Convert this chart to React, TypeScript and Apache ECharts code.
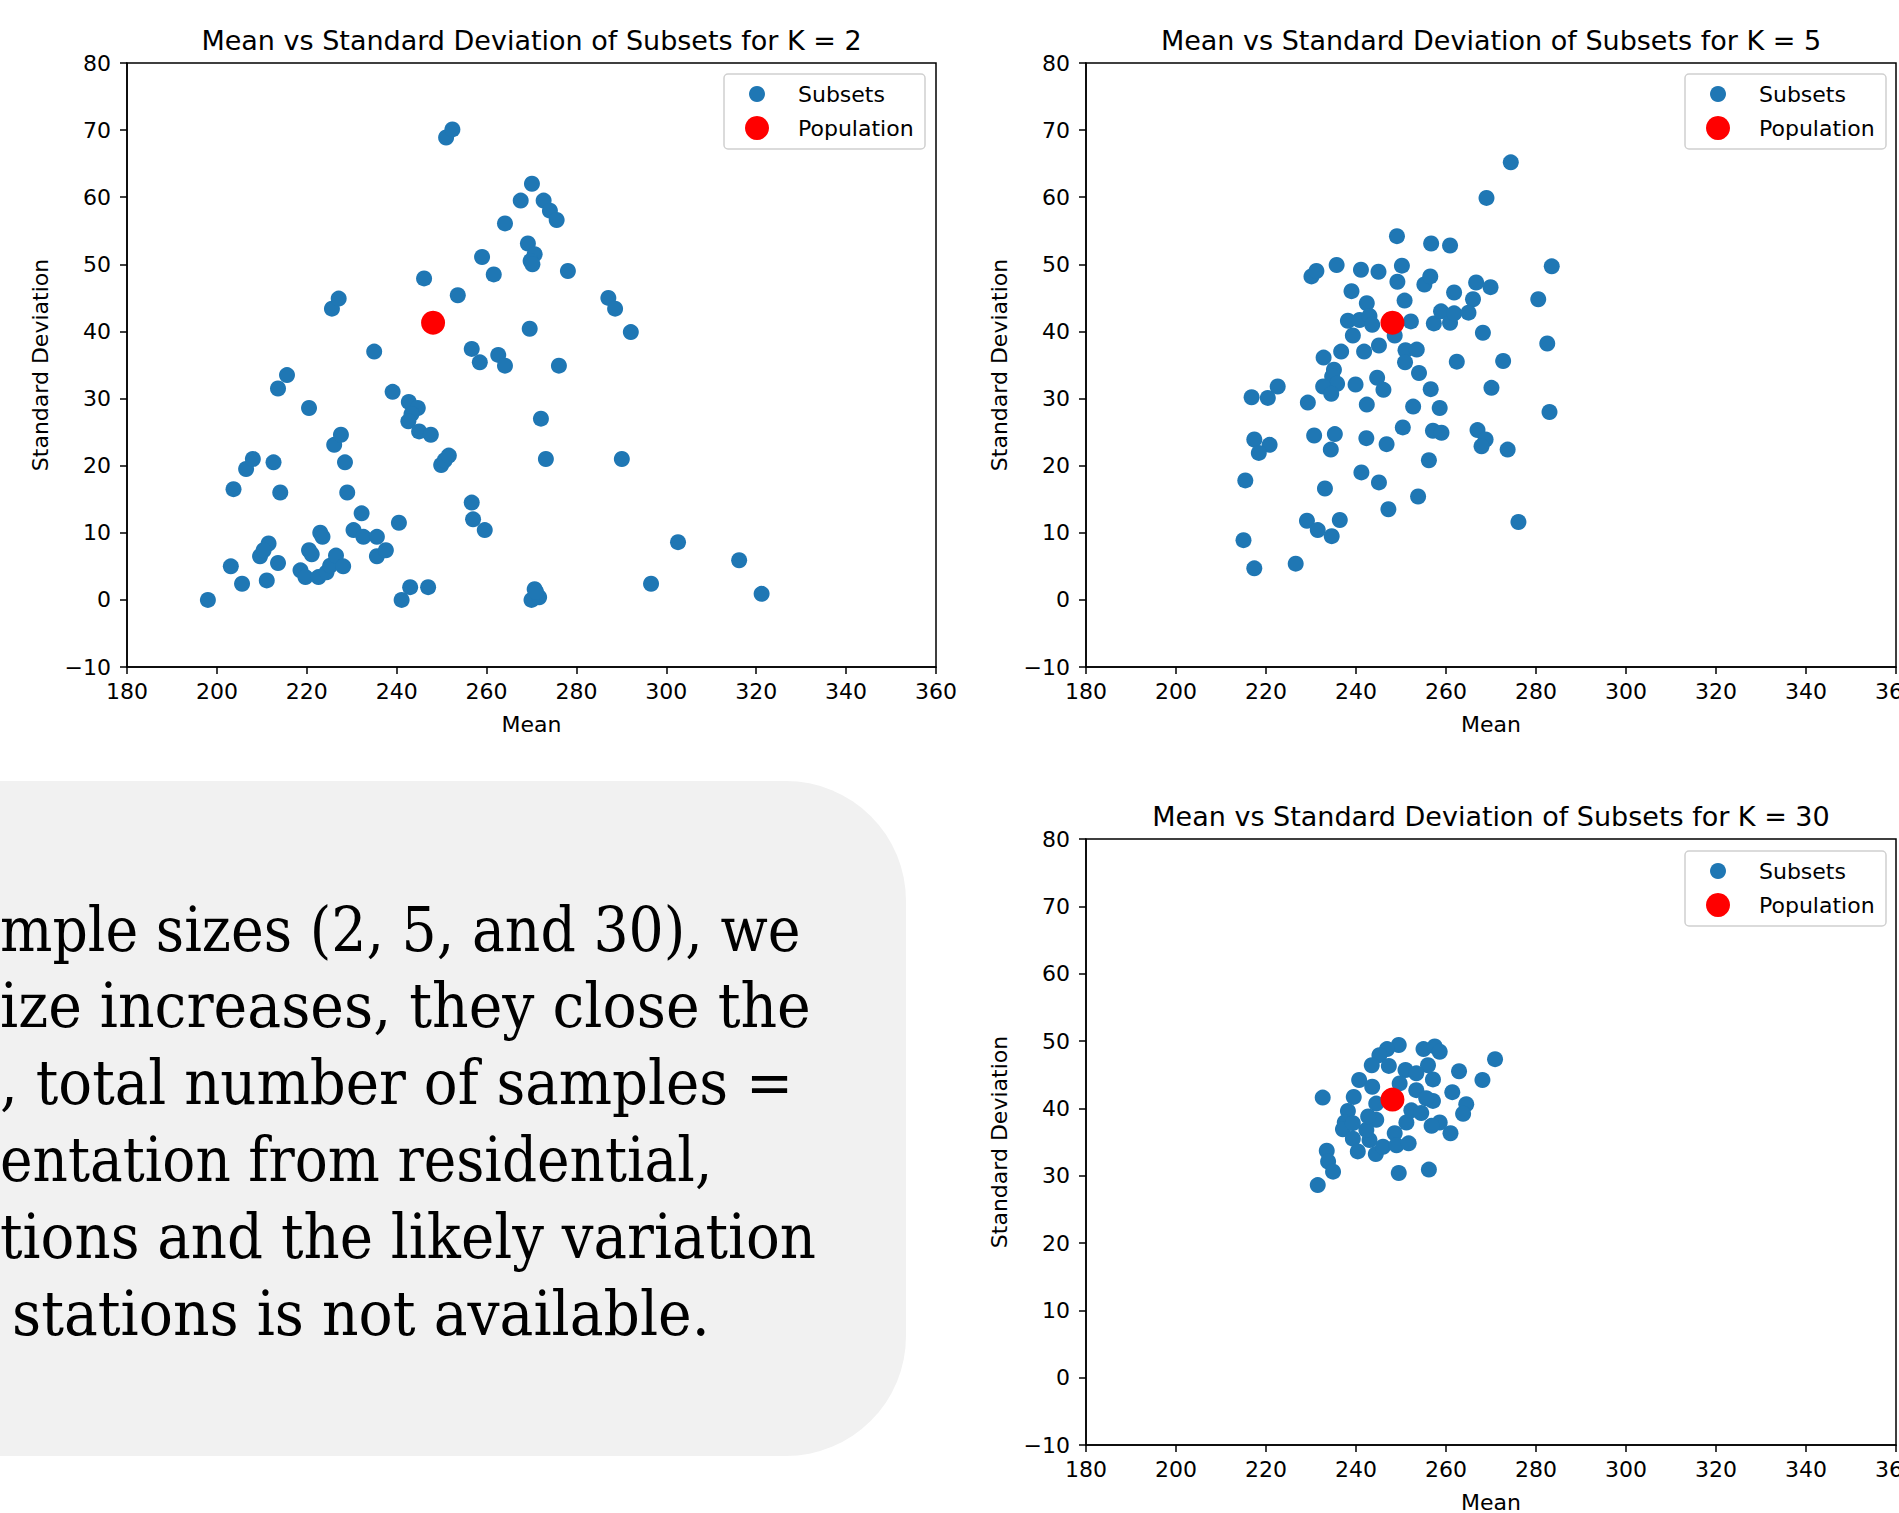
import { useEffect, useRef } from "react";
import * as echarts from "echarts";

// ---------- data ----------
const xTicks = [180, 200, 220, 240, 260, 280, 300, 320, 340, 360];
const yTicks = [-10, 0, 10, 20, 30, 40, 50, 60, 70, 80];

const population: [number, number] = [248.1, 41.3];

const subsetsK2: [number, number][] = [
  [198.0, 0.0], [203.1, 5.0], [205.6, 2.4], [211.1, 2.9], [209.6, 6.5], [211.5, 8.4],
  [210.4, 7.4], [213.6, 5.5], [203.7, 16.5], [206.5, 19.5], [208.0, 21.0], [212.6, 20.5],
  [214.1, 16.0], [213.6, 31.5], [215.6, 33.5], [220.5, 28.6], [218.6, 4.4], [219.7, 3.4],
  [220.5, 7.4], [221.1, 6.8], [223.0, 10.0], [223.5, 9.4], [222.6, 3.4], [224.4, 4.1],
  [225.2, 5.1], [226.5, 6.6], [228.1, 5.0], [225.6, 43.4], [227.1, 44.9], [226.1, 23.1],
  [227.6, 24.6], [228.5, 20.5], [229.0, 16.0], [230.4, 10.4], [232.2, 12.9], [232.6, 9.4],
  [235.6, 9.4], [235.6, 6.5], [237.6, 7.4], [235.0, 37.0], [239.1, 31.0], [240.5, 11.5],
  [241.1, 0.0], [243.0, 1.9], [247.0, 1.9], [242.7, 29.5], [244.7, 28.6], [243.3, 27.7],
  [242.6, 26.6], [245.0, 25.1], [247.6, 24.6], [246.1, 47.9], [253.6, 45.4], [249.9, 20.1],
  [250.7, 20.8], [251.6, 21.5], [251.0, 68.9], [252.4, 70.1], [256.7, 37.4], [258.5, 35.4],
  [262.6, 36.5], [264.1, 34.9], [256.7, 14.5], [257.0, 12.0], [259.6, 10.4], [259.0, 51.1],
  [261.6, 48.5], [264.1, 56.1], [267.6, 59.5], [270.1, 62.0], [272.7, 59.5], [274.1, 58.0],
  [275.6, 56.6], [269.2, 53.1], [270.7, 51.5], [269.8, 50.5], [270.2, 50.0], [278.1, 49.0],
  [269.6, 40.4], [276.1, 34.9], [272.1, 27.0], [273.2, 21.0], [270.7, 1.6], [270.0, 0.0],
  [271.7, 0.4], [271.0, 1.2], [287.1, 45.0], [288.6, 43.4], [292.1, 39.9], [290.1, 21.0],
  [302.6, 8.6], [316.2, 5.9], [296.6, 2.4], [321.2, 0.9],
];

const subsetsK5: [number, number][] = [
  [274.4, 65.2], [269.0, 59.9], [249.1, 54.2], [256.7, 53.1], [260.9, 52.8], [235.7, 49.9],
  [241.1, 49.2], [245.0, 48.9], [250.2, 49.8], [283.5, 49.7], [230.1, 48.2], [231.2, 49.0],
  [249.2, 47.4], [255.2, 47.0], [256.5, 48.2], [239.0, 46.0], [261.8, 45.8], [266.7, 47.3],
  [269.9, 46.6], [280.5, 44.8], [266.0, 44.8], [242.4, 44.2], [250.8, 44.6], [238.2, 41.6],
  [240.8, 41.7], [243.0, 42.3], [243.6, 41.0], [252.2, 41.5], [257.3, 41.2], [258.9, 43.0],
  [260.9, 41.3], [261.8, 42.7], [265.0, 42.8], [239.3, 39.4], [248.6, 39.4], [245.1, 37.9],
  [241.8, 37.0], [236.7, 37.0], [232.8, 36.1], [268.2, 39.8], [282.5, 38.2], [251.0, 37.2],
  [253.5, 37.3], [250.9, 35.4], [262.4, 35.5], [272.7, 35.6], [235.1, 34.3], [234.7, 33.3],
  [254.0, 33.8], [235.8, 32.2], [232.7, 31.8], [234.5, 30.7], [239.9, 32.1], [244.7, 33.1],
  [246.1, 31.3], [256.6, 31.4], [270.1, 31.6], [222.6, 31.8], [220.4, 30.1], [216.8, 30.2],
  [229.3, 29.4], [242.4, 29.1], [252.7, 28.8], [258.6, 28.6], [283.0, 28.0], [250.4, 25.7],
  [257.1, 25.2], [259.0, 24.9], [267.0, 25.3], [268.8, 23.9], [267.9, 22.9], [273.7, 22.4],
  [230.7, 24.5], [235.3, 24.7], [242.3, 24.1], [246.8, 23.2], [234.4, 22.4], [217.4, 23.9],
  [220.8, 23.1], [218.4, 21.9], [256.2, 20.8], [215.4, 17.8], [241.2, 19.0], [245.1, 17.5],
  [233.1, 16.6], [253.8, 15.4], [247.2, 13.5], [276.1, 11.6], [229.1, 11.8], [236.4, 11.9],
  [231.5, 10.4], [234.6, 9.5], [215.0, 8.9], [217.4, 4.7], [226.6, 5.4],
];

const subsetsK30: [number, number][] = [
  [270.9, 47.3], [268.1, 44.2], [262.9, 45.5], [261.4, 42.4], [264.5, 40.6], [263.8, 39.2],
  [261.0, 36.3], [258.6, 37.9], [256.8, 37.4], [257.1, 41.1], [257.1, 44.3], [256.0, 46.4],
  [255.0, 48.8], [257.5, 49.2], [258.6, 48.4], [249.5, 49.4], [246.9, 48.8], [245.2, 47.9],
  [243.5, 46.4], [247.3, 46.3], [251.0, 45.7], [253.4, 45.2], [240.7, 44.2], [239.5, 41.7],
  [232.6, 41.6], [243.6, 43.2], [238.2, 39.6], [237.5, 37.9], [237.1, 36.9], [239.3, 37.8],
  [239.3, 35.5], [240.4, 33.6], [243.0, 35.3], [244.4, 33.2], [246.0, 34.3], [248.6, 36.3],
  [249.0, 34.5], [251.7, 34.8], [251.2, 37.9], [252.3, 39.7], [253.4, 42.7], [244.5, 40.7],
  [244.5, 38.3], [242.3, 36.8], [233.5, 33.7], [233.8, 32.1], [234.9, 30.6], [231.5, 28.6],
  [249.5, 30.4], [256.2, 30.9], [254.5, 39.3], [255.6, 41.5], [249.7, 43.7], [242.7, 38.8],
];

const chartTitles = [
  "Mean vs Standard Deviation of Subsets for K = 2",
  "Mean vs Standard Deviation of Subsets for K = 5",
  "Mean vs Standard Deviation of Subsets for K = 30",
];
const subsetSeries = [subsetsK2, subsetsK5, subsetsK30];
const legendNames = ["Subsets", "Population"];
const xName = "Mean";
const yName = "Standard Deviation";

const noteLines = [
  "mple sizes (2, 5, and 30), we",
  "ize increases, they close the",
  ", total number of samples =",
  "entation from residential,",
  "tions and the likely variation",
  "stations is not available.",
];

// ---------- layout ----------
const grids = [
  { left: 127, top: 63, width: 809, height: 604 },
  { left: 1086, top: 63, width: 810, height: 604 },
  { left: 1086, top: 839, width: 810, height: 606 },
];
const noteX = [0, 0, 0, 0, 0, 12];
const noteY = [929, 1006, 1083, 1160, 1237, 1314];
const noteScaleX = [0.892, 0.917, 0.907, 0.886, 0.907, 0.916];

const SANS = "DejaVu Sans";
const BLUE = "#1f77b4";
const RED = "#ff0000";

function fmtTick(v: number) {
  return v < 0 ? "\u2212" + Math.abs(v) : String(v);
}

export default function App() {
  const ref = useRef<HTMLDivElement>(null);

  useEffect(() => {
    if (!ref.current) return;
    const chart = echarts.init(ref.current, undefined, { renderer: "svg" });

    const xAxes = grids.map((_, i) => ({
      type: "value",
      gridIndex: i,
      min: xTicks[0],
      max: xTicks[xTicks.length - 1],
      interval: xTicks[1] - xTicks[0],
      name: xName,
      nameLocation: "middle",
      nameGap: 46,
      nameTextStyle: { fontFamily: SANS, fontSize: 22, color: "#000" },
      axisLine: { show: true, onZero: false, lineStyle: { color: "#000", width: 1.5 } },
      axisTick: { show: true, inside: false, length: 7, lineStyle: { color: "#000", width: 1.5 } },
      axisLabel: { color: "#000", fontFamily: SANS, fontSize: 22, margin: 13, formatter: fmtTick },
      splitLine: { show: false },
    }));
    const yAxes = grids.map((_, i) => ({
      type: "value",
      gridIndex: i,
      min: yTicks[0],
      max: yTicks[yTicks.length - 1],
      interval: yTicks[1] - yTicks[0],
      name: yName,
      nameLocation: "middle",
      nameGap: 76,
      nameRotate: 90,
      nameTextStyle: { fontFamily: SANS, fontSize: 22, color: "#000" },
      axisLine: { show: true, onZero: false, lineStyle: { color: "#000", width: 1.5 } },
      axisTick: { show: true, inside: false, length: 7, lineStyle: { color: "#000", width: 1.5 } },
      axisLabel: { color: "#000", fontFamily: SANS, fontSize: 22, margin: 16, formatter: fmtTick },
      splitLine: { show: false },
    }));

    const series: any[] = [];
    subsetSeries.forEach((pts, i) => {
      series.push({
        type: "scatter",
        name: legendNames[0],
        xAxisIndex: i,
        yAxisIndex: i,
        data: pts,
        symbol: "circle",
        symbolSize: 16,
        itemStyle: { color: BLUE, opacity: 1 },
        z: 2,
      });
      series.push({
        type: "scatter",
        name: legendNames[1],
        xAxisIndex: i,
        yAxisIndex: i,
        data: [population],
        symbol: "circle",
        symbolSize: 24,
        itemStyle: { color: RED, opacity: 1 },
        z: 3,
      });
    });

    const legendBoxes = [
      { x: 724, y: 74 },
      { x: 1685, y: 74 },
      { x: 1685, y: 851 },
    ];
    const legends: any[] = [];
    legendBoxes.forEach((b) => {
      legends.push({
        data: [legendNames[0]],
        left: b.x + 25,
        top: b.y + 9,
        orient: "vertical",
        icon: "circle",
        itemWidth: 72,
        itemHeight: 16,
        padding: 0,
        selectedMode: false,
        textStyle: { fontFamily: SANS, fontSize: 22, color: "#000" },
        z: 20,
      });
      legends.push({
        data: [legendNames[1]],
        left: b.x + 21,
        top: b.y + 42,
        orient: "vertical",
        icon: "circle",
        itemWidth: 72,
        itemHeight: 24,
        padding: 0,
        selectedMode: false,
        textStyle: { fontFamily: SANS, fontSize: 22, color: "#000" },
        z: 20,
      });
    });

    const graphics: any[] = [
      {
        type: "rect",
        shape: { x: -200, y: 781, width: 1106, height: 675, r: 120 },
        style: { fill: "#f1f1f1" },
        z: 0,
      },
      ...noteLines.map((t, i) => ({
        type: "text",
        x: noteX[i],
        y: noteY[i],
        scaleX: noteScaleX[i],
        style: {
          text: t,
          font: '62px "DejaVu Serif"',
          fill: "#000",
          verticalAlign: "middle",
          align: "left",
        },
        z: 1,
      })),
      ...legendBoxes.map((b) => ({
        type: "rect",
        shape: { x: b.x, y: b.y, width: 201, height: 75, r: 4 },
        style: { fill: "rgba(255,255,255,0.8)", stroke: "#d0d0d0", lineWidth: 1.5 },
        z: 19,
      })),
    ];

    chart.setOption({
      animation: false,
      backgroundColor: "#ffffff",
      title: grids.map((g, i) => ({
        text: chartTitles[i],
        left: g.left + g.width / 2,
        top: g.top - 36,
        textAlign: "center",
        padding: 0,
        textStyle: { fontFamily: SANS, fontSize: 27, fontWeight: "normal", color: "#000" },
      })),
      grid: grids.map((g) => ({
        ...g,
        show: true,
        borderColor: "#000",
        borderWidth: 1.5,
        backgroundColor: "transparent",
        containLabel: false,
        outerBoundsMode: "none",
      })),
      xAxis: xAxes,
      yAxis: yAxes,
      legend: legends,
      graphic: { elements: graphics },
      series,
    } as any);

    return () => chart.dispose();
  }, []);

  return (
    <div
      ref={ref}
      style={{ position: "absolute", left: 0, top: 0, width: 1899, height: 1513, background: "#fff" }}
    />
  );
}
